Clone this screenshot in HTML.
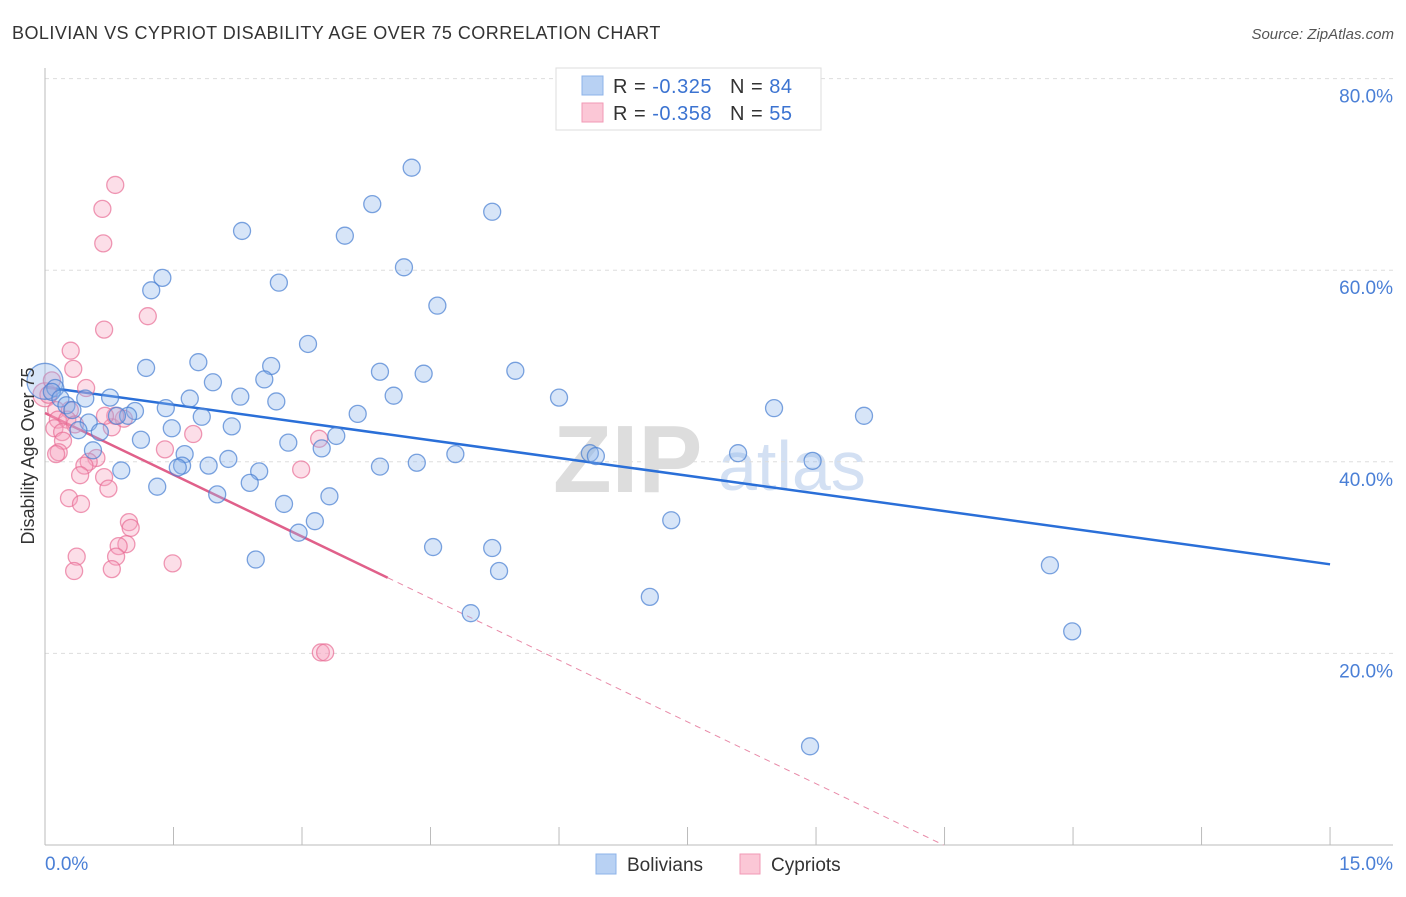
<!DOCTYPE html>
<html><head><meta charset="utf-8"><style>
body{margin:0;background:#fff;font-family:"Liberation Sans",sans-serif;}
svg text{font-family:"Liberation Sans",sans-serif;}
</style></head><body>
<svg id="chart" width="1406" height="892" xmlns="http://www.w3.org/2000/svg">
<text x="12" y="39" font-size="18" fill="#333" letter-spacing="0.45">BOLIVIAN VS CYPRIOT DISABILITY AGE OVER 75 CORRELATION CHART</text>
<text x="1394" y="39" font-size="15" fill="#555" font-style="italic" text-anchor="end">Source: ZipAtlas.com</text>
<text x="553" y="492" font-size="96" fill="#ddd" font-family="Liberation Serif" font-weight="bold">ZIP</text>
<text x="718" y="490" font-size="70" fill="#d3e0f3">atlas</text>
<g id="grid"></g>
<g id="axes"></g>
<g id="lines"></g>
<g id="pts"></g>
<text transform="translate(34,456) rotate(-90)" font-size="18" fill="#333" text-anchor="middle">Disability Age Over 75</text>
<g>
<rect x="556" y="68" width="265" height="62" fill="#fff" stroke="#ddd"/>
<rect x="582" y="76" width="21" height="19" fill="#b8d1f3" stroke="#8db3e8"/>
<rect x="582" y="103" width="21" height="19" fill="#fbc7d6" stroke="#f19ab5"/>
<text x="613" y="93" font-size="20" fill="#333" letter-spacing="0.5">R = <tspan fill="#3b73d1">-0.325</tspan><tspan dx="18">N = </tspan><tspan fill="#3b73d1">84</tspan></text>
<text x="613" y="120" font-size="20" fill="#333" letter-spacing="0.5">R = <tspan fill="#3b73d1">-0.358</tspan><tspan dx="18">N = </tspan><tspan fill="#3b73d1">55</tspan></text>
</g>
<g>
<rect x="596" y="854" width="20" height="20" fill="#b8d1f3" stroke="#8db3e8"/>
<text x="627" y="871" font-size="19" fill="#333">Bolivians</text>
<rect x="740" y="854" width="20" height="20" fill="#fbc7d6" stroke="#f19ab5"/>
<text x="771" y="871" font-size="19" fill="#333">Cypriots</text>
</g>
</svg>
<script>
const blueX=[0,4.28,5.22,3.82,2.30,3.50,4.19,1.37,1.24,2.73,4.58,3.07,1.18,1.79,2.64,3.91,4.42,5.49,1.96,2.56,4.07,1.69,2.28,2.70,6.00,8.51,9.56,0.12,0.08,0.18,0.25,0.47,0.76,1.41,1.05,0.97,0.84,1.83,2.18,3.65,1.48,0.51,0.39,0.64,1.12,3.40,2.84,3.23,1.63,1.91,2.14,1.60,1.55,2.50,0.89,3.91,4.34,4.79,6.36,6.43,8.09,8.96,1.31,2.39,2.01,3.32,2.79,3.15,2.96,7.31,4.53,5.22,2.46,5.30,11.73,7.06,4.97,11.99,8.93,0.56,0.32];
const blueY=[48.4,70.7,66.1,66.9,64.1,63.6,60.3,59.2,57.9,58.7,56.3,52.3,49.8,50.4,50.0,49.4,49.2,49.5,48.3,48.6,46.9,46.6,46.8,46.3,46.7,45.6,44.8,47.7,47.3,46.6,45.9,46.6,46.7,45.6,45.3,44.8,44.8,44.7,43.7,45.0,43.5,44.1,43.3,43.1,42.3,42.7,42.0,41.4,40.8,39.6,40.3,39.6,39.4,39.0,39.1,39.5,39.9,40.8,40.9,40.6,40.9,40.1,37.4,37.8,36.6,36.4,35.6,33.8,32.6,33.9,31.1,31.0,29.8,28.6,29.2,25.9,24.2,22.3,10.3,41.2,45.4];
const pinkX=[0,0.82,0.67,0.68,1.20,0.69,0.30,0.33,0.48,0.08,0.04,0.13,0.29,0.15,0.26,0.35,0.11,0.20,0.78,0.92,0.82,1.73,1.40,0.21,0.16,0.60,0.51,0.46,0.13,0.41,0.69,0.74,0.28,0.42,2.99,0.98,1.00,0.95,0.86,0.83,0.37,0.34,0.78,1.49,3.20,3.22,3.27,0.70];
const pinkY=[47.0,68.9,66.4,62.8,55.2,53.8,51.6,49.7,47.7,48.5,47.0,45.4,45.4,44.4,44.4,43.9,43.5,43.1,43.6,44.5,44.8,42.9,41.3,42.2,41.0,40.4,40.0,39.6,40.8,38.6,38.4,37.2,36.2,35.6,39.2,33.7,33.1,31.4,31.2,30.1,30.1,28.6,28.8,29.4,42.4,20.1,20.1,44.8];
const yTicks=[20,40,60,80];
const yTickLabels=["20.0%","40.0%","60.0%","80.0%"];
const xTickLabels=["0.0%","15.0%"];
const blueTrend=[47.8,29.3];
const pinkTrend=[45.1,-4.3];
const NS="http://www.w3.org/2000/svg";
const sx=v=>45+v*85.67, sy=v=>845-v*9.58;
function mk(tag,attrs,parent){const e=document.createElementNS(NS,tag);for(const k in attrs)e.setAttribute(k,attrs[k]);document.getElementById(parent).appendChild(e);return e;}
yTicks.forEach((t,i)=>{
 const l=mk('line',{x1:45,x2:1393,y1:sy(t),y2:sy(t),stroke:'#ddd','stroke-dasharray':'4,4'},'grid');
 
 
 const tx=mk('text',{x:1393,y:sy(t)+24,'text-anchor':'end','font-size':19,fill:'#4a7fd6'},'grid');
 tx.textContent=yTickLabels[i];
 
 
});
let a=mk('line',{x1:45,x2:45,y1:68,y2:845,stroke:'#bbb'},'axes');


a=mk('line',{x1:45,x2:1393,y1:845,y2:845,stroke:'#bbb'},'axes');


for(let i=0;i<=10;i++){
 const t=mk('line',{x1:sx(i*1.5),x2:sx(i*1.5),y1:827,y2:845,stroke:'#bbb'},'axes');
 
 
}
let xl=mk('text',{x:45,y:870,'font-size':19,fill:'#4a7fd6'},'axes');xl.textContent=xTickLabels[0];


xl=mk('text',{x:1393,y:870,'font-size':19,fill:'#4a7fd6','text-anchor':'end'},'axes');xl.textContent=xTickLabels[1];


pinkX.forEach((x,i)=>{
 const c=mk('circle',{cx:sx(x),cy:sy(pinkY[i]),r:i==0?12:8.5,fill:'rgba(247,160,188,0.35)',stroke:'rgba(232,110,150,0.7)','stroke-width':1.3},'pts');
 
 
});
blueX.forEach((x,i)=>{
 const c=mk('circle',{cx:sx(x),cy:sy(blueY[i]),r:i==0?18:8.5,fill:'rgba(140,180,236,0.35)',stroke:'rgba(70,125,210,0.7)','stroke-width':1.3},'pts');
 
 
});
let ln=mk('line',{x1:sx(0),y1:sy(blueTrend[0]),x2:sx(15),y2:sy(blueTrend[1]),stroke:'#2a6fd8','stroke-width':2.5},'lines');


const pEnd=4, pZero=-pinkTrend[0]/pinkTrend[1];
ln=mk('line',{x1:sx(0),y1:sy(pinkTrend[0]),x2:sx(pEnd),y2:sy(pinkTrend[0]+pinkTrend[1]*pEnd),stroke:'#e0608a','stroke-width':2.5},'lines');


ln=mk('line',{x1:sx(pEnd),y1:sy(pinkTrend[0]+pinkTrend[1]*pEnd),x2:sx(pZero),y2:sy(0),stroke:'#e88aa8','stroke-width':1,'stroke-dasharray':'6,5'},'lines');


</script>
</body></html>
